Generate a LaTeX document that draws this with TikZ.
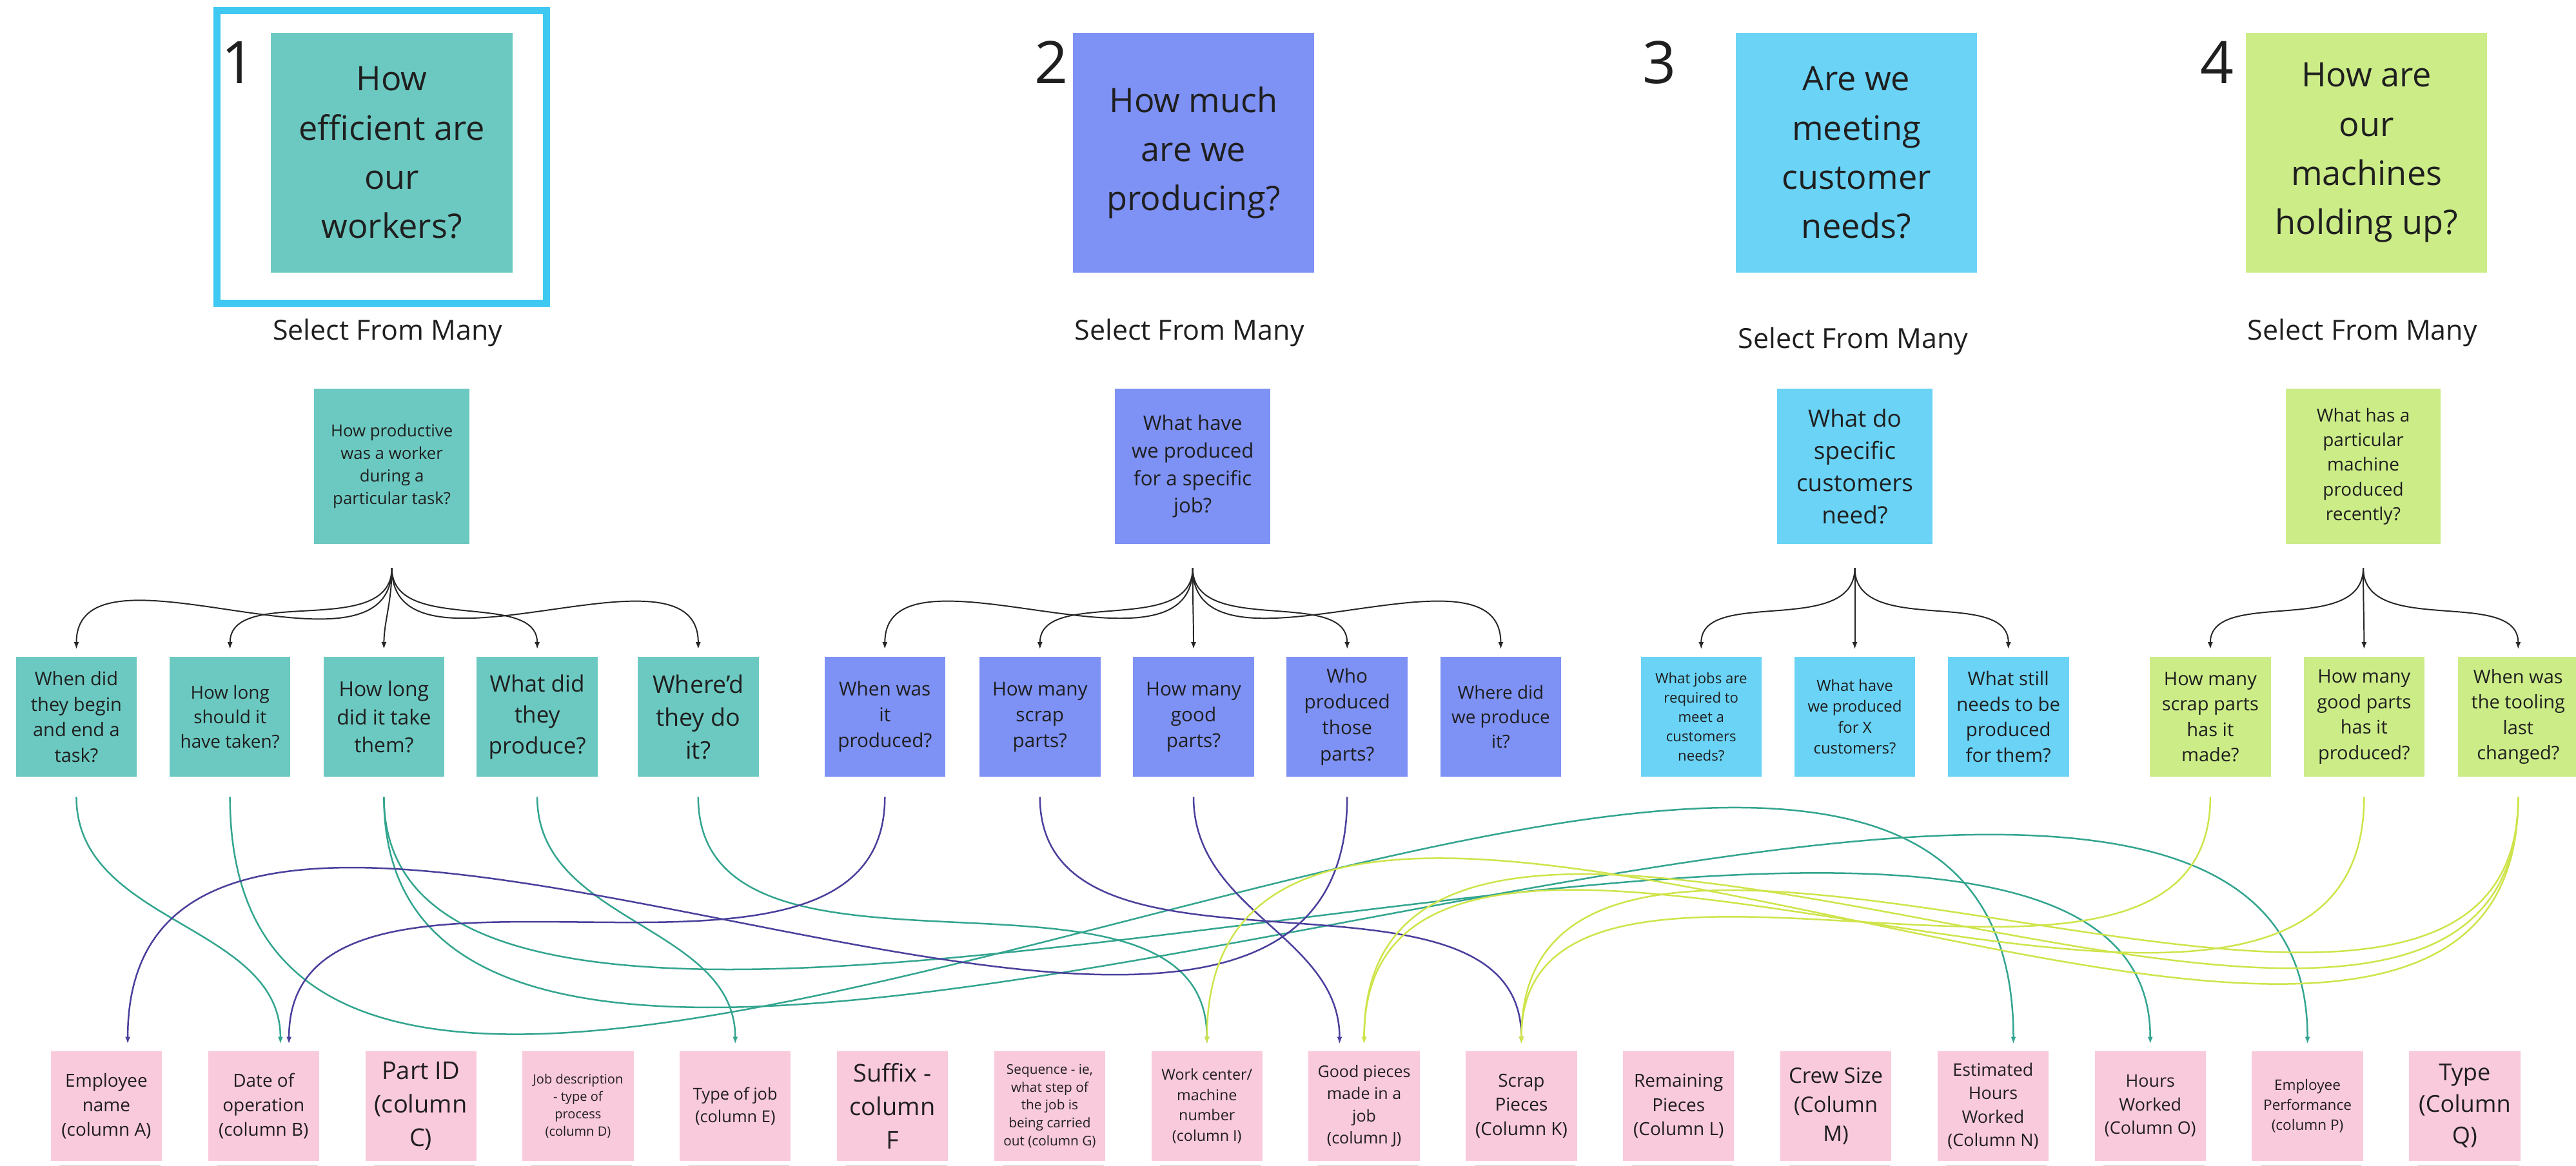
\documentclass[tikz,border=0pt]{standalone}
\usepackage{fontspec}
\setmainfont{Open Sans}
\usetikzlibrary{arrows.meta,backgrounds,calc}
\definecolor{cteal}{HTML}{6CC9C1}
\definecolor{cperi}{HTML}{7E91F5}
\definecolor{ccyan}{HTML}{6AD3F6}
\definecolor{clime}{HTML}{CCEC88}
\definecolor{cpink}{HTML}{F9C9DC}
\definecolor{lteal}{HTML}{33A58F}
\definecolor{lpurp}{HTML}{4A409C}
\definecolor{llime}{HTML}{CFE44A}
\definecolor{cframe}{HTML}{3EC8F2}
\newcommand\fsz[2]{\fontsize{#1}{#2}\selectfont}
\newcommand\shadowof[2]{\shade[top color=black!62,bottom color=white] ([xshift=1.4mm]#1.south west) rectangle ([xshift=-0.3mm,yshift=-#2]#1.south east);}
\newcommand\lnk[4]{\draw[link,#1] ([yshift=-3mm]#2.south) to[out=-90,in=90] ([xshift=#4]#3.north);}
\begin{document}
\begin{tikzpicture}[x=0.25mm,y=-0.25mm,
  note/.style={rectangle,inner sep=0pt,align=center,text=black!88},
  bignote/.style={note,minimum width=36.75mm,minimum height=36.5mm,font=\fsz{14.6}{21.3}},
  midnote/.style={note,minimum width=23.6mm,minimum height=23.6mm},
  smallnote/.style={note,minimum width=18.4mm,minimum height=18.25mm},
  pinknote/.style={note,fill=cpink,minimum width=16.9mm,minimum height=16.75mm},
  numlabel/.style={anchor=base,font=\fsz{25.4}{30},text=black!88},
  sellabel/.style={anchor=base,font=\fsz{12}{14},text=black!88},
  fan/.style={draw=black!85,line width=0.55pt,shorten >=1.1mm,-{Latex[length=1.1mm,width=0.8mm]}},
  link/.style={line width=0.7pt,shorten >=1mm,-{Latex[length=1.1mm,width=0.8mm]}},
]
\useasboundingbox[fill=white] (0,0) rectangle (1568,709.7);

% frame around first card
\node[draw=cframe,line width=1.08mm,minimum width=50.15mm,minimum height=44.55mm,inner sep=0pt] (frame) at (232.5,95.7) {};

% numbers
\node[numlabel] (n1) at (145,51) {1};
\node[numlabel] (n2) at (640,51) {2};
\node[numlabel] (n3) at (1010,51) {3};
\node[numlabel] (n4) at (1349.5,51) {4};

% top cards
\node[bignote,fill=cteal] (s1) at (238.5,93) {How\\efficient are\\our\\workers?};
\node[bignote,fill=cperi] (s2) at (726.5,93) {How much\\are we\\producing?};
\node[bignote,fill=ccyan] (s3) at (1130,93) {Are we\\meeting\\customer\\needs?};
\node[bignote,fill=clime] (s4) at (1440.5,93) {How are\\our\\machines\\holding up?};

\node[sellabel] (t1) at (236,207) {Select From Many};
\node[sellabel] (t2) at (724,207) {Select From Many};
\node[sellabel] (t3) at (1128,212) {Select From Many};
\node[sellabel] (t4) at (1438,207) {Select From Many};

% second level
\node[midnote,fill=cteal,font=\fsz{7.2}{9.8}] (m1) at (238.5,284) {How productive\\was a worker\\during a\\particular task?};
\node[midnote,fill=cperi,font=\fsz{8.7}{11.9}] (m2) at (726,284) {What have\\we produced\\for a specific\\job?};
\node[midnote,fill=ccyan,font=\fsz{10.3}{14}] (m3) at (1129,284) {What do\\specific\\customers\\need?};
\node[midnote,fill=clime,font=\fsz{7.8}{10.7}] (m4) at (1438.5,284) {What has a\\particular\\machine\\produced\\recently?};

% third level
\node[smallnote,fill=cteal,font=\fsz{8.1}{11}] (q1a) at (46.5,436.5) {When did\\they begin\\and end a\\task?};
\node[smallnote,fill=cteal,font=\fsz{7.8}{10.7}] (q1b) at (140,436.5) {How long\\should it\\have taken?};
\node[smallnote,fill=cteal,font=\fsz{8.9}{12.1}] (q1c) at (233.7,436.5) {How long\\did it take\\them?};
\node[smallnote,fill=cteal,font=\fsz{9.8}{13.4}] (q1d) at (327,436.5) {What did\\they\\produce?};
\node[smallnote,fill=cteal,font=\fsz{10.5}{14.2}] (q1e) at (425,436.5) {Where'd\\they do\\it?};
\node[smallnote,fill=cperi,font=\fsz{8.3}{11.2}] (q2a) at (538.6,436.5) {When was\\it\\produced?};
\node[smallnote,fill=cperi,font=\fsz{8.3}{11.2}] (q2b) at (633,436.5) {How many\\scrap\\parts?};
\node[smallnote,fill=cperi,font=\fsz{8.3}{11.2}] (q2c) at (726.5,436.5) {How many\\good\\parts?};
\node[smallnote,fill=cperi,font=\fsz{8.3}{11.2}] (q2d) at (820,436.5) {Who\\produced\\those\\parts?};
\node[smallnote,fill=cperi,font=\fsz{7.8}{10.6}] (q2e) at (913.5,436.5) {Where did\\we produce\\it?};
\node[smallnote,fill=ccyan,font=\fsz{6.2}{8.4}] (q3a) at (1035.5,436.5) {What jobs are\\required to\\meet a\\customers\\needs?};
\node[smallnote,fill=ccyan,font=\fsz{6.7}{9.1}] (q3b) at (1129,436.5) {What have\\we produced\\for X\\customers?};
\node[smallnote,fill=ccyan,font=\fsz{8.2}{11.1}] (q3c) at (1222.5,436.5) {What still\\needs to be\\produced\\for them?};
\node[smallnote,fill=clime,font=\fsz{8.1}{11}] (q4a) at (1345.4,436.5) {How many\\scrap parts\\has it\\made?};
\node[smallnote,fill=clime,font=\fsz{8.1}{11}] (q4b) at (1439,436.5) {How many\\good parts\\has it\\produced?};
\node[smallnote,fill=clime,font=\fsz{8.1}{11}] (q4c) at (1532.8,436.5) {When was\\the tooling\\last\\changed?};

% bottom row (data columns)
\node[pinknote,font=\fsz{7.8}{10.7}] (pA) at (64.75,673.5) {Employee\\name\\(column A)};
\node[pinknote,font=\fsz{7.8}{10.7}] (pB) at (160.45,673.5) {Date of\\operation\\(column B)};
\node[pinknote,font=\fsz{10.6}{14.4}] (pC) at (256.15,673.5) {Part ID\\(column\\C)};
\node[pinknote,font=\fsz{5.6}{7.6}] (pD) at (351.85,673.5) {Job description\\- type of\\process\\(column D)};
\node[pinknote,font=\fsz{7.1}{9.7}] (pE) at (447.55,673.5) {Type of job\\(column E)};
\node[pinknote,font=\fsz{10.6}{14.4}] (pF) at (543.25,673.5) {Suffix -\\column\\F};
\node[pinknote,font=\fsz{5.8}{7.8}] (pG) at (638.95,673.5) {Sequence - ie,\\what step of\\the job is\\being carried\\out (column G)};
\node[pinknote,font=\fsz{6.5}{8.8}] (pI) at (734.65,673.5) {Work center/\\machine\\number\\(column I)};
\node[pinknote,font=\fsz{7}{9.6}] (pJ) at (830.35,673.5) {Good pieces\\made in a\\job\\(column J)};
\node[pinknote,font=\fsz{7.8}{10.5}] (pK) at (926.05,673.5) {Scrap\\Pieces\\(Column K)};
\node[pinknote,font=\fsz{7.8}{10.5}] (pL) at (1021.75,673.5) {Remaining\\Pieces\\(Column L)};
\node[pinknote,font=\fsz{9.2}{12.6}] (pM) at (1117.45,673.5) {Crew Size\\(Column\\M)};
\node[pinknote,font=\fsz{7.5}{10.2}] (pN) at (1213.15,673.5) {Estimated\\Hours\\Worked\\(Column N)};
\node[pinknote,font=\fsz{7.5}{10.2}] (pO) at (1308.85,673.5) {Hours\\Worked\\(Column O)};
\node[pinknote,font=\fsz{6.3}{8.6}] (pP) at (1404.55,673.5) {Employee\\Performance\\(column P)};
\node[pinknote,font=\fsz{10.1}{13.7}] (pQ) at (1500.25,673.5) {Type\\(Column\\Q)};

% shadows
\begin{scope}[on background layer]
\foreach \n in {s1,s2,s3,s4} {\shadowof{\n}{2.2mm}}
\foreach \n in {m1,m2,m3,m4} {\shadowof{\n}{1.8mm}}
\foreach \n in {q1a,q1b,q1c,q1d,q1e,q2a,q2b,q2c,q2d,q2e,q3a,q3b,q3c,q4a,q4b,q4c} {\shadowof{\n}{1.4mm}}
\foreach \n in {pA,pB,pC,pD,pE,pF,pG,pI,pJ,pK,pL,pM,pN,pO,pP,pQ} {\shadowof{\n}{0.8mm}}
\end{scope}

% fans
\coordinate (f1) at ([yshift=-3.6mm]m1.south);
\coordinate (f2) at ([yshift=-3.6mm]m2.south);
\coordinate (f3) at ([yshift=-3.6mm]m3.south);
\coordinate (f4) at ([yshift=-3.6mm]m4.south);
\foreach \c in {q1a,q1b,q1c,q1d,q1e} {\draw[fan] (f1) to[out=-90,in=90] (\c.north);}
\foreach \c in {q2a,q2b,q2c,q2d,q2e} {\draw[fan] (f2) to[out=-90,in=90] (\c.north);}
\foreach \c in {q3a,q3b,q3c} {\draw[fan] (f3) to[out=-90,in=90] (\c.north);}
\foreach \c in {q4a,q4b,q4c} {\draw[fan] (f4) to[out=-90,in=90] (\c.north);}

% links to data columns
\lnk{lteal}{q1a}{pB}{2.56mm}
\lnk{lteal}{q1b}{pN}{3.1mm}
\lnk{lteal,looseness=0.67}{q1c}{pO}{0mm}
\lnk{lteal,looseness=0.8}{q1c}{pP}{0mm}
\lnk{lteal}{q1d}{pE}{0mm}
\lnk{lteal}{q1e}{pI}{0mm}
\lnk{lpurp}{q2a}{pB}{3.86mm}
\lnk{lpurp}{q2b}{pK}{0mm}
\lnk{lpurp}{q2c}{pJ}{-3.74mm}
\lnk{lpurp}{q2d}{pA}{3.25mm}
\lnk{llime}{q4a}{pK}{0mm}
\lnk{llime}{q4b}{pJ}{0mm}
\lnk{llime}{q4c}{pI}{0mm}
\lnk{llime}{q4c}{pJ}{0mm}
\lnk{llime}{q4c}{pK}{0mm}
\end{tikzpicture}
\end{document}
